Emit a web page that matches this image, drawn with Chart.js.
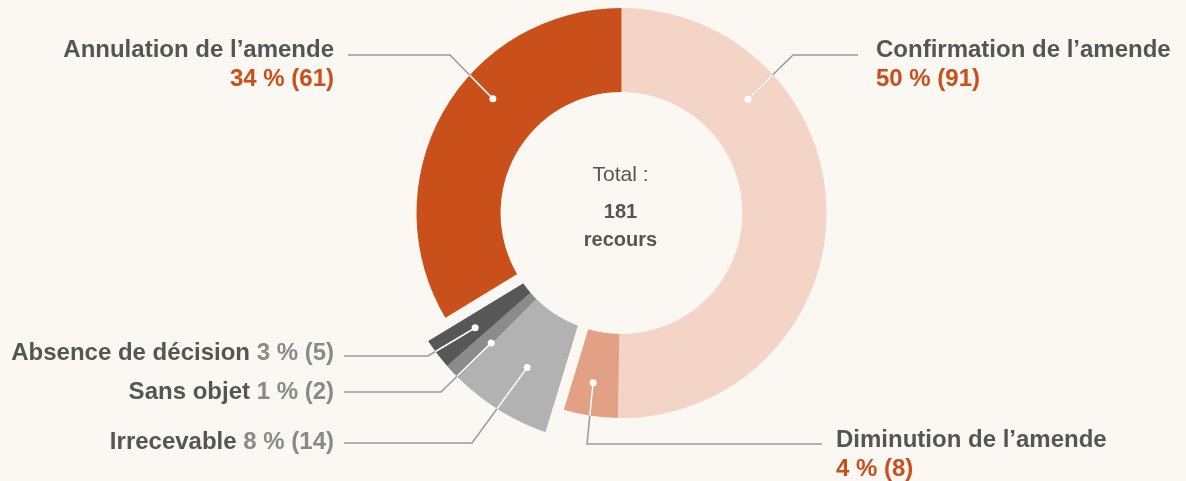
<!DOCTYPE html>
<html lang="fr">
<head>
<meta charset="utf-8">
<title>Recours</title>
<script src="https://cdn.jsdelivr.net/npm/chart.js@4.4.1/dist/chart.umd.min.js"></script>
<style>
    html, body { margin: 0; padding: 0; background: #fbf7f2; }
    #wrap { position: relative; width: 1186px; height: 481px; }
</style>
</head>
<body>
<div id="wrap"><canvas id="donut"></canvas></div>
<script>
// données
const categories = ['Confirmation de l’amende', 'Diminution de l’amende', 'Irrecevable', 'Sans objet', 'Absence de décision', 'Annulation de l’amende'];
const counts = [91, 8, 14, 2, 5, 61];
const colors = ['#f3d4c7', '#e2a085', '#b2b2b2', '#8b8b8b', '#575757', '#c94f1b'];
const totalLabel = 'Total :';
const unitLabel = 'recours';

const total = counts.reduce((a, b) => a + b, 0);
const percents = counts.map(v => Math.round(v / total * 100));

// segments gris un peu plus grands et détachés
const raised = [2, 3, 4];
const raiseBy = 27;
const gapFrom = -2, gapTo = 9;

const bg = '#fbf7f2';
const darkText = '#555555';
const orange = '#c94f1b';
const greyValue = '#8a8a8a';
const lineColor = '#9a9a9a';
const font = '"Liberation Sans", Arial, Helvetica, sans-serif';

// placement des étiquettes (angle du point depuis le haut, en degrés)
const labelLayout = [
    {align: 'left',  x: 876, y: 50,  lineY: 55,  lineX: 858, elbowX: 793, angle: 48,    r: 170},
    {align: 'left',  x: 836, y: 440, lineY: 444, lineX: 822, elbowX: 587, angle: 189.5, r: 172},
    {align: 'right', x: 334, y: 442, lineY: 443, lineX: 344, elbowX: 472, angle: 211.4, r: 181},
    {align: 'right', x: 334, y: 392, lineY: 392, lineX: 344, elbowX: 441, angle: 225.1, r: 184},
    {align: 'right', x: 334, y: 353, lineY: 356, lineX: 344, elbowX: 428, angle: 231.9, r: 186},
    {align: 'right', x: 334, y: 50,  lineY: 55,  lineX: 348, elbowX: 450, angle: 311.6, r: 172},
];
const twoLines = [0, 1, 5];

function drawGap(ctx, arc, angle, dir) {
    const ux = Math.cos(angle), uy = Math.sin(angle);
    const px = -uy * dir, py = ux * dir;
    const r0 = arc.innerRadius - 3, r1 = arc.outerRadius + 3;
    ctx.save();
    ctx.fillStyle = bg;
    ctx.beginPath();
    ctx.moveTo(arc.x + ux * r0 + px * gapFrom, arc.y + uy * r0 + py * gapFrom);
    ctx.lineTo(arc.x + ux * r1 + px * gapFrom, arc.y + uy * r1 + py * gapFrom);
    ctx.lineTo(arc.x + ux * r1 + px * gapTo, arc.y + uy * r1 + py * gapTo);
    ctx.lineTo(arc.x + ux * r0 + px * gapTo, arc.y + uy * r0 + py * gapTo);
    ctx.closePath();
    ctx.fill();
    ctx.restore();
}

const raisePlugin = {
    id: 'raise',
    afterDatasetsUpdate(chart) {
        const meta = chart.getDatasetMeta(0);
        raised.forEach(i => {
            meta.data[i].outerRadius = meta.controller.outerRadius + raiseBy;
        });
    },
    afterDatasetsDraw(chart) {
        const arcs = chart.getDatasetMeta(0).data;
        const first = arcs[raised[0]];
        const last = arcs[raised[raised.length - 1]];
        drawGap(chart.ctx, first, first.startAngle, 1);
        drawGap(chart.ctx, last, last.endAngle, -1);
    }
};

const labelPlugin = {
    id: 'labels',
    afterDraw(chart) {
        const ctx = chart.ctx;
        const arcs = chart.getDatasetMeta(0).data;
        const cx = arcs[0].x, cy = arcs[0].y;

        // texte central
        ctx.save();
        ctx.fillStyle = darkText;
        ctx.textAlign = 'center';
        ctx.textBaseline = 'middle';
        ctx.font = '21px ' + font;
        ctx.fillText(totalLabel, cx - 1, 175);
        ctx.font = 'bold 20px ' + font;
        ctx.fillText(String(total), cx - 1, 212);
        ctx.fillText(unitLabel, cx - 1, 240);
        ctx.restore();

        categories.forEach((name, i) => {
            const L = labelLayout[i];
            const arc = arcs[i];
            const a = L.angle * Math.PI / 180;
            const dx = cx + Math.sin(a) * L.r;
            const dy = cy - Math.cos(a) * L.r;

            const pts = [[L.lineX, L.lineY], [L.elbowX, L.lineY], [dx, dy]];
            ctx.save();
            ctx.lineWidth = 1.5;
            ctx.strokeStyle = lineColor;
            ctx.beginPath();
            pts.forEach((p, k) => k ? ctx.lineTo(p[0], p[1]) : ctx.moveTo(p[0], p[1]));
            ctx.stroke();
            // partie blanche dans l'anneau
            ctx.beginPath();
            ctx.arc(cx, cy, arc.outerRadius, 0, Math.PI * 2);
            ctx.clip();
            ctx.strokeStyle = '#ffffff';
            ctx.beginPath();
            pts.forEach((p, k) => k ? ctx.lineTo(p[0], p[1]) : ctx.moveTo(p[0], p[1]));
            ctx.stroke();
            ctx.restore();

            ctx.save();
            ctx.fillStyle = '#ffffff';
            ctx.beginPath();
            ctx.arc(dx, dy, 3.5, 0, Math.PI * 2);
            ctx.fill();
            ctx.restore();

            const value = percents[i] + ' % (' + counts[i] + ')';
            ctx.save();
            ctx.font = 'bold 24px ' + font;
            ctx.textBaseline = 'middle';
            if (twoLines.includes(i)) {
                ctx.textAlign = L.align;
                ctx.fillStyle = darkText;
                ctx.fillText(name, L.x, L.y);
                ctx.fillStyle = orange;
                ctx.fillText(value, L.x, L.y + 29);
            } else {
                ctx.textAlign = 'right';
                ctx.fillStyle = greyValue;
                ctx.fillText(value, L.x, L.y);
                const w = ctx.measureText(' ' + value).width;
                ctx.fillStyle = darkText;
                ctx.fillText(name, L.x - w, L.y);
            }
            ctx.restore();
        });
    }
};

new Chart(document.getElementById('donut'), {
    type: 'doughnut',
    data: {
        labels: categories,
        datasets: [{
            data: counts,
            backgroundColor: colors,
            borderWidth: 0,
            clip: false
        }]
    },
    options: {
        responsive: true,
        maintainAspectRatio: false,
        animation: false,
        radius: 205,
        cutout: '59%',
        layout: {
            padding: {left: 57, right: 0, top: 0, bottom: 55}
        },
        plugins: {
            legend: { display: false },
            tooltip: { enabled: false }
        }
    },
    plugins: [raisePlugin, labelPlugin]
});
</script>
</body>
</html>
